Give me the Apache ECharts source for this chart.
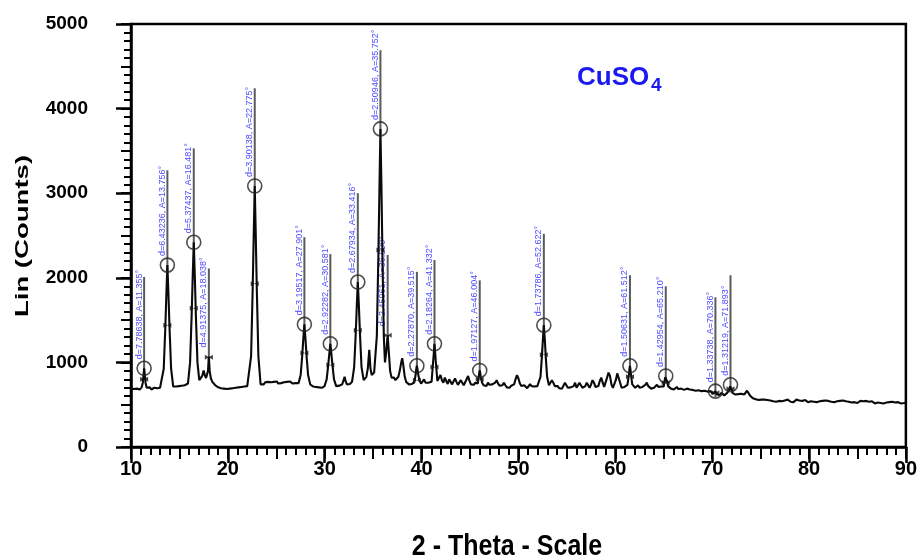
<!DOCTYPE html>
<html>
<head>
<meta charset="utf-8">
<script src="https://cdn.jsdelivr.net/npm/echarts@6/dist/echarts.min.js"></script>
<style>
html,body{margin:0;padding:0;background:#fff;}
#chart{width:920px;height:559px;}
</style>
</head>
<body>
<div id="chart"></div>
<script>
// ---- axis ticks ----
const xTicks = [10, 20, 30, 40, 50, 60, 70, 80, 90];
const yTicks = [0, 1000, 2000, 3000, 4000, 5000];

// ---- diffractogram trace: [2-theta, counts] ----
const trace = [
[10.0,690],[10.15,700],[10.3,685],[10.45,705],[10.6,690],[10.75,700],[10.9,680],[11.0,695],
[11.1,705],[11.22,760],[11.3,860],[11.355,930],[11.42,860],[11.5,760],[11.62,700],
[11.8,690],[11.95,705],[12.1,680],[12.25,690],[12.4,700],[12.55,685],[12.7,695],[12.85,690],[13.0,700],
[13.16,710],[13.38,925],[13.54,1400],[13.66,1835],[13.756,2150],[13.86,1830],[13.98,1400],[14.14,925],[14.36,715],
[14.5,700],[14.65,715],[14.8,705],[14.95,720],[15.1,710],[15.25,725],[15.4,715],[15.55,730],[15.7,740],
[15.88,750],[16.1,1000],[16.26,1550],[16.38,2050],[16.481,2420],[16.58,2050],[16.7,1550],[16.86,1000],[17.05,790],
[17.2,800],[17.35,840],[17.5,905],[17.62,850],[17.75,815],[17.88,830],
[17.95,900],[18.038,1070],[18.12,900],[18.25,810],[18.4,770],[18.55,750],
[18.7,730],[18.85,720],[19.0,705],[19.15,715],[19.3,695],[19.45,705],[19.6,690],[19.75,700],[19.9,685],[20.05,700],
[20.2,690],[20.35,680],[20.5,695],[20.65,685],[20.8,700],[20.95,690],[21.1,705],[21.25,695],[21.4,710],[21.55,700],
[21.7,715],[21.85,705],[22.0,720],
[22.18,720],[22.4,1075],[22.56,1855],[22.68,2565],[22.775,3085],[22.87,2565],[22.99,1855],[23.15,1075],[23.38,740],
[23.55,755],[23.7,740],[23.85,765],[24.0,750],[24.15,770],[24.3,755],[24.45,765],[24.6,745],[24.75,770],[24.9,760],
[25.05,775],[25.2,750],[25.35,765],[25.5,755],[25.65,745],[25.8,765],[25.95,750],[26.1,770],[26.25,755],[26.4,775],
[26.55,760],[26.7,750],[26.85,770],[27.0,755],[27.15,770],
[27.3,755],[27.52,855],[27.68,1085],[27.8,1295],[27.901,1450],[28.0,1295],[28.12,1085],[28.28,855],[28.5,740],
[28.65,730],[28.8,715],[28.95,725],[29.1,710],[29.25,720],[29.4,705],[29.55,715],[29.7,700],[29.85,720],
[29.98,720],[30.2,800],[30.36,965],[30.48,1110],[30.581,1220],[30.68,1110],[30.8,965],[30.96,800],[31.18,720],
[31.35,710],[31.5,725],[31.65,715],[31.8,740],[31.95,790],[32.05,830],[32.15,780],[32.3,740],[32.45,760],[32.6,745],
[32.82,770],[33.04,945],[33.2,1335],[33.32,1690],[33.416,1950],[33.52,1690],[33.64,1335],[33.8,945],[34.02,790],
[34.15,800],[34.3,830],[34.45,930],[34.6,1150],[34.72,930],[34.85,850],[35.0,860],[35.1,880],
[35.22,880],[35.38,1310],[35.54,2260],[35.66,3125],[35.752,3760],[35.85,3125],[35.96,2260],[36.1,1310],[36.22,1000],
[36.35,1120],[36.5,1320],[36.62,1120],[36.75,900],[36.9,820],
[37.0,800],[37.15,820],[37.3,790],[37.45,800],[37.6,830],[37.75,900],[37.9,1000],[38.0,1050],[38.1,980],[38.25,840],
[38.4,770],[38.55,750],[38.7,740],[38.85,755],[39.0,745],[39.15,760],
[39.25,765],[39.38,850],[39.45,920],[39.515,960],[39.58,920],[39.66,850],[39.8,780],
[39.95,750],[40.1,770],[40.25,800],[40.4,760],[40.55,745],[40.7,760],[40.85,750],
[41.03,770],[41.18,990],[41.27,1120],[41.332,1220],[41.4,1120],[41.48,990],[41.63,780],
[41.8,800],[41.95,850],[42.1,790],[42.25,760],[42.4,820],[42.55,780],[42.7,745],[42.85,800],[43.0,770],[43.15,740],
[43.3,760],[43.45,810],[43.6,770],[43.75,735],[43.9,750],[44.05,790],[44.2,760],[44.35,730],[44.5,745],[44.65,800],
[44.8,840],[44.95,780],[45.1,740],[45.25,755],[45.4,735],[45.55,760],[45.7,740],
[45.8,750],[45.9,830],[45.96,880],[46.004,905],[46.05,880],[46.12,820],[46.25,760],
[46.4,730],[46.55,745],[46.7,720],[46.85,760],[47.0,735],[47.15,715],[47.3,740],[47.45,720],[47.6,760],[47.75,790],
[47.9,750],[48.05,725],[48.2,710],[48.35,730],[48.5,760],[48.65,730],[48.8,705],[48.95,720],[49.1,700],[49.25,725],
[49.4,715],[49.55,740],[49.7,800],[49.85,850],[50.0,810],[50.15,750],[50.3,720],[50.45,705],[50.6,730],[50.75,710],
[50.9,695],[51.05,720],[51.2,745],[51.35,720],[51.5,700],[51.65,715],[51.8,700],[51.95,720],
[52.1,715],[52.28,830],[52.42,1065],[52.53,1280],[52.622,1440],[52.72,1280],[52.82,1065],[52.96,830],[53.15,730],
[53.3,740],[53.45,790],[53.6,760],[53.75,720],[53.9,700],[54.05,720],[54.2,695],[54.35,715],[54.5,690],[54.65,710],
[54.8,760],[54.95,730],[55.1,700],[55.25,685],[55.4,705],[55.55,690],[55.7,720],[55.85,760],
[56.0,700],[56.15,720],[56.3,760],[56.45,730],[56.6,700],[56.75,690],[56.9,720],[57.05,760],[57.2,730],[57.35,700],
[57.5,740],[57.65,790],[57.8,760],[57.95,710],[58.1,690],[58.25,720],[58.4,780],[58.55,820],[58.7,760],[58.85,710],
[59.0,720],[59.15,820],[59.3,880],[59.45,840],[59.6,740],[59.75,700],[59.9,710],[60.05,790],[60.2,870],[60.35,850],
[60.5,760],[60.65,700],[60.8,690],[60.95,710],[61.1,720],[61.25,735],
[61.3,740],[61.4,850],[61.46,920],[61.512,960],[61.56,920],[61.63,850],[61.75,740],
[61.9,720],[62.05,700],[62.2,715],[62.35,730],[62.5,700],[62.65,690],[62.8,710],[62.95,700],[63.1,735],[63.25,760],
[63.4,720],[63.55,700],[63.7,690],[63.85,710],[64.0,700],[64.15,720],[64.3,735],[64.45,710],[64.6,700],[64.75,715],[64.9,720],
[65.0,715],[65.1,790],[65.16,825],[65.21,840],[65.26,825],[65.33,780],[65.45,720],
[65.6,700],[65.75,690],[65.9,705],[66.05,680],[66.2,695],[66.35,710],[66.5,685],[66.65,670],[66.8,690],[66.95,700],
[67.1,675],[67.25,665],[67.4,690],[67.55,705],[67.7,680],[67.85,660],[68.0,675],[68.15,690],[68.3,665],[68.45,650],
[68.6,670],[68.75,685],[68.9,660],[69.05,645],[69.2,665],[69.35,680],[69.5,655],[69.65,640],[69.8,660],[69.95,650],[70.1,630],
[70.2,625],[70.28,640],[70.336,660],[70.4,640],[70.5,620],
[70.65,630],[70.8,615],[70.95,640],[71.1,625],[71.25,610],[71.4,630],[71.55,640],[71.7,650],
[71.78,680],[71.85,720],[71.893,735],[71.94,720],[72.0,680],[72.1,640],
[72.25,630],[72.4,620],[72.55,640],[72.7,625],[72.85,610],[73.0,630],[73.15,615],[73.3,620],[73.45,640],[73.6,665],
[73.75,650],[73.9,610],[74.05,590],[74.2,575],[74.35,590],[74.5,565],[74.65,570],[74.8,555],[74.95,575],[75.1,560],
[75.25,545],[75.4,560],[75.55,540],[75.7,555],[75.85,535],[76.0,550],[76.15,560],[76.3,540],[76.45,555],[76.6,535],
[76.75,550],[76.9,545],[77.05,560],[77.2,540],[77.35,530],[77.5,550],[77.65,540],[77.8,560],[77.95,545],[78.1,535],
[78.25,550],[78.4,530],[78.55,545],[78.7,560],[78.85,540],[79.0,550],[79.15,530],[79.3,545],[79.45,535],[79.6,555],
[79.75,540],[79.9,530],[80.05,550],[80.2,540],[80.35,555],[80.5,535],[80.65,545],[80.8,530],[80.95,550],[81.1,540],
[81.25,525],[81.4,545],[81.55,535],[81.7,550],[81.85,530],[82.0,545],[82.15,560],[82.3,535],[82.45,545],[82.6,530],
[82.75,550],[82.9,540],[83.05,525],[83.2,545],[83.35,535],[83.5,550],[83.65,530],[83.8,540],[83.95,555],[84.1,535],
[84.25,545],[84.4,525],[84.55,540],[84.7,530],[84.85,545],[85.0,520],[85.15,535],[85.3,545],[85.45,525],[85.6,540],
[85.75,530],[85.9,545],[86.05,525],[86.2,535],[86.35,520],[86.5,540],[86.65,530],[86.8,515],[86.95,535],[87.1,525],
[87.25,540],[87.4,520],[87.55,530],[87.7,515],[87.85,535],[88.0,525],[88.15,510],[88.3,530],[88.45,520],[88.6,535],
[88.75,515],[88.9,525],[89.05,510],[89.2,530],[89.35,520],[89.5,515],[89.65,530],[89.8,520],[90.0,525]
];

// ---- identified peaks ----
const peakAngle  = [11.355, 13.756, 16.481, 18.038, 22.775, 27.901, 30.581, 33.416, 35.752, 36.5, 39.515, 41.332, 46.004, 52.622, 61.512, 65.210, 70.336, 71.893];
const peakCounts = [930, 2150, 2420, 1070, 3085, 1450, 1220, 1950, 3760, 1320, 960, 1220, 905, 1440, 960, 840, 660, 735];
const stickTop   = [2010, 3270, 3530, 2110, 4240, 2480, 2280, 3000, 4690, 2270, 2070, 2210, 1970, 2520, 2030, 1900, 1770, 2030];
const halfCounts = [800, 1440, 1640, 1060, 1930, 1110, 970, 1380, 2330, 1320, 790, 945, 800, 1090, 830, 760, 640, 690];
const circled    = [1, 1, 1, 0, 1, 1, 1, 1, 1, 0, 1, 1, 1, 1, 1, 1, 1, 1];
const peakLabel  = [
 "d=7.78638, A=11.355°", "d=6.43236, A=13.756°", "d=5.37437, A=16.481°", "d=4.91375, A=18.038°",
 "d=3.90138, A=22.775°", "d=3.19517, A=27.901°", "d=2.92282, A=30.581°", "d=2.67934, A=33.416°",
 "d=2.50946, A=35.752°", "d=2.45961, A=36.500°", "d=2.27870, A=39.515°", "d=2.18264, A=41.332°",
 "d=1.97127, A=46.004°", "d=1.73786, A=52.622°", "d=1.50631, A=61.512°", "d=1.42954, A=65.210°",
 "d=1.33738, A=70.336°", "d=1.31219, A=71.893°"
];

const FONT = '"Liberation Sans", Arial, sans-serif';
const NARROW = '"Liberation Sans Narrow", "Arial Narrow", "Liberation Sans", Arial, sans-serif';

const chart = echarts.init(document.getElementById('chart'), null, {renderer: 'canvas'});

const stickData = peakAngle.map((a, i) => [a, peakCounts[i], stickTop[i]]);
const circleData = peakAngle.map((a, i) => [a, peakCounts[i]]).filter((d, i) => circled[i]);
const crossData = peakAngle.map((a, i) => [a, halfCounts[i]]);

const axisLineStyle = {color: '#000', width: 2.5};
const plain = v => String(v);

const option = {
  animation: false,
  backgroundColor: '#fff',
  grid: {left: 131, right: 12, top: 24, bottom: 112, show: true, borderColor: '#000', borderWidth: 2.5, backgroundColor: 'transparent'},
  xAxis: [
    {type: 'value', min: xTicks[0], max: xTicks[xTicks.length - 1], interval: 10, position: 'bottom',
     axisLine: {show: true, lineStyle: axisLineStyle},
     axisTick: {show: true, inside: false, length: 16, lineStyle: {color: '#000', width: 2.5}},
     minorTick: {show: false},
     splitLine: {show: false},
     axisLabel: {show: true, margin: 12, color: '#000', fontSize: 20, fontWeight: 'bold', fontFamily: NARROW, formatter: plain}},
    {type: 'value', min: xTicks[0], max: xTicks[xTicks.length - 1], interval: 5, position: 'bottom',
     axisLine: {show: false},
     axisTick: {show: true, inside: false, length: 12, lineStyle: {color: '#000', width: 2}},
     minorTick: {show: true, splitNumber: 5, length: 8, lineStyle: {color: '#000', width: 2}},
     splitLine: {show: false},
     axisLabel: {show: false}}
  ],
  yAxis: [
    {type: 'value', min: yTicks[0], max: yTicks[yTicks.length - 1], interval: 1000, position: 'left',
     axisLine: {show: true, lineStyle: axisLineStyle},
     axisTick: {show: true, inside: false, length: 15, lineStyle: {color: '#000', width: 2.5}},
     minorTick: {show: false},
     splitLine: {show: false},
     axisLabel: {show: true, margin: 43, color: '#000', fontSize: 19, fontWeight: 'bold', fontFamily: FONT, formatter: plain}},
    {type: 'value', min: yTicks[0], max: yTicks[yTicks.length - 1], interval: 500, position: 'left',
     axisLine: {show: false},
     axisTick: {show: true, inside: false, length: 10, lineStyle: {color: '#000', width: 2}},
     minorTick: {show: true, splitNumber: 5, length: 7, lineStyle: {color: '#000', width: 2}},
     splitLine: {show: false},
     axisLabel: {show: false}}
  ],
  series: [
    {type: 'custom', xAxisIndex: 0, yAxisIndex: 0, data: stickData, z: 2, clip: false,
     renderItem: function (params, api) {
       const x = api.value(0), y = api.value(1), t = api.value(2);
       const p = api.coord([x, y]);
       const q = api.coord([x, t]);
       return {type: 'group', children: [
         {type: 'line', shape: {x1: p[0], y1: p[1] + 6, x2: q[0], y2: q[1]}, style: {stroke: '#5a5a5a', lineWidth: 2}},
         {type: 'text', x: p[0] - 5, y: p[1] - 9, rotation: Math.PI / 2,
          style: {text: peakLabel[params.dataIndex], align: 'left', verticalAlign: 'middle', fill: '#4b4bff', font: '9px ' + FONT}}
       ]};
     }},
    {type: 'line', xAxisIndex: 0, yAxisIndex: 0, data: trace, showSymbol: false, z: 3,
     lineStyle: {color: '#0a0a0a', width: 2.1}},
    {type: 'scatter', xAxisIndex: 0, yAxisIndex: 0, data: circleData, z: 4, symbol: 'circle', symbolSize: 14,
     itemStyle: {color: 'rgba(0,0,0,0)', borderColor: '#222', borderWidth: 1.6}},
    {type: 'scatter', xAxisIndex: 0, yAxisIndex: 0, data: crossData, z: 4,
     symbol: 'path://M0,0L10,6L10,0L0,6Z', symbolSize: [8, 5],
     itemStyle: {color: '#111'}}
  ],
  graphic: [
    {type: 'text', x: 23, y: 236, rotation: Math.PI / 2, scaleX: 1.45,
     style: {text: 'Lin (Counts)', font: 'bold 19px ' + FONT, fill: '#000', align: 'center', verticalAlign: 'middle'}},
    {type: 'text', x: 507, y: 547, scaleY: 1.2,
     style: {text: '2 - Theta - Scale', font: 'bold 25px ' + NARROW, fill: '#000', align: 'center', verticalAlign: 'middle'}},
    {type: 'text', x: 577, y: 78,
     style: {text: 'CuSO', font: 'bold 26px ' + FONT, fill: '#1a1af0', align: 'left', verticalAlign: 'middle'}},
    {type: 'text', x: 651, y: 86,
     style: {text: '4', font: 'bold 19px ' + FONT, fill: '#1a1af0', align: 'left', verticalAlign: 'middle'}}
  ]
};
chart.setOption(option);
</script>
</body>
</html>
